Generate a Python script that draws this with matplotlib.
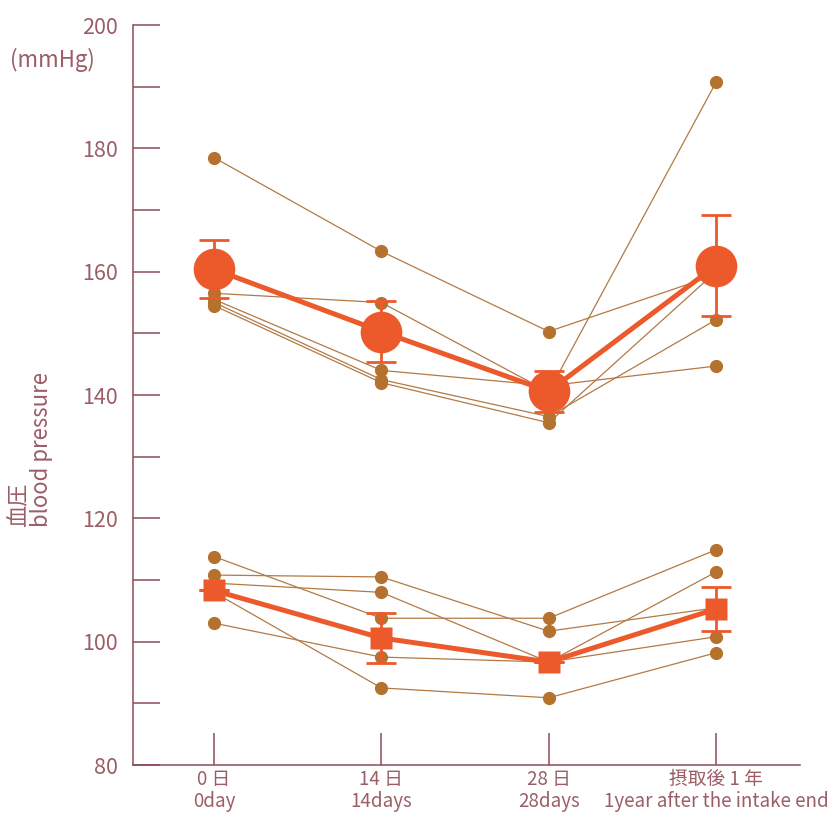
import matplotlib
matplotlib.use("Agg")
import matplotlib.pyplot as plt
from matplotlib.ticker import MultipleLocator

plt.rcParams['font.family'] = ['Noto Sans CJK JP', 'DejaVu Sans']

# time points
x_labels = ['0 日\n0day', '14 日\n14days', '28 日\n28days', '摂取後 1 年\n1year after the intake end']

# individual systolic values (5 subjects)
sys_s1 = [178.5, 163.3, 150.3, 159.5]
sys_s2 = [156.5, 155.0, 140.5, 190.7]
sys_s3 = [155.5, 144.0, 141.5, 144.7]
sys_s4 = [155.0, 142.5, 136.5, 152.2]
sys_s5 = [154.5, 142.0, 135.5, 160.0]

# individual diastolic values
dia_s1 = [113.8, 103.8, 103.8, 114.9]
dia_s2 = [110.8, 110.5, 101.7, 105.5]
dia_s3 = [109.5, 108.0, 96.7, 111.3]
dia_s4 = [108.0, 92.5, 90.9, 98.2]
dia_s5 = [103.0, 97.5, 96.7, 100.8]

# means with error bars
sys_mean = [160.4, 150.3, 140.6, 161.0]
sys_err = [4.7, 5.0, 3.3, 8.2]
dia_mean = [108.3, 100.6, 96.7, 105.3]
dia_err = [0.0, 4.1, 0.0, 3.5]

axis_col = '#8E4B57'
label_col = '#9B5E66'
ind_line = '#B27A45'
ind_dot = '#B5722F'
mean_col = '#EC5A2C'

fig = plt.figure(figsize=(8.32, 8.21), dpi=100)
ax = fig.add_axes([0.160, 0.0682, 0.8017, 0.9013])

x = list(range(len(x_labels)))

for s in [sys_s1, sys_s2, sys_s3, sys_s4, sys_s5, dia_s1, dia_s2, dia_s3, dia_s4, dia_s5]:
    ax.plot(x, s, color=ind_line, lw=0.9, zorder=3)
    ax.plot(x, s, 'o', color=ind_dot, ms=9.5, mec='none', zorder=3)

ax.errorbar(x, sys_mean, yerr=sys_err, fmt='o-', color=mean_col, ms=30, lw=3.6,
            elinewidth=2, capsize=10.8, capthick=2, mec='none', zorder=4)
ax.errorbar(x, dia_mean, yerr=dia_err, fmt='s-', color=mean_col, ms=16, lw=3.6,
            elinewidth=2, capsize=10.8, capthick=2, mec='none', zorder=4)

ax.set_xlim(-0.484, 3.503)
ax.set_ylim(80, 200)
ax.yaxis.set_major_locator(MultipleLocator(20))
ax.yaxis.set_minor_locator(MultipleLocator(10))
ax.set_xticks(x)
ax.set_xticklabels(x_labels, fontsize=13.5, color=label_col, linespacing=1.05)

for side in ['top', 'right']:
    ax.spines[side].set_visible(False)
for side in ['left', 'bottom']:
    ax.spines[side].set_color(axis_col)
    ax.spines[side].set_linewidth(1.1)

ax.tick_params(axis='y', which='both', direction='in', length=19.5, width=1.1,
               color=axis_col, labelcolor=label_col, labelsize=15.5, pad=11)
ax.tick_params(axis='x', direction='in', length=23, width=1.1,
               color=axis_col, pad=3)

fig.text(10 / 832, 1 - 60 / 821, '(mmHg)', fontsize=16, color=label_col,
         ha='left', va='center')
fig.text(30 / 832, 1 - 527 / 821, '血圧\nblood pressure', fontsize=16,
         color=label_col, rotation=90, ha='center', va='bottom',
         multialignment='left', linespacing=0.95)

fig.savefig('out.png', dpi=100)
